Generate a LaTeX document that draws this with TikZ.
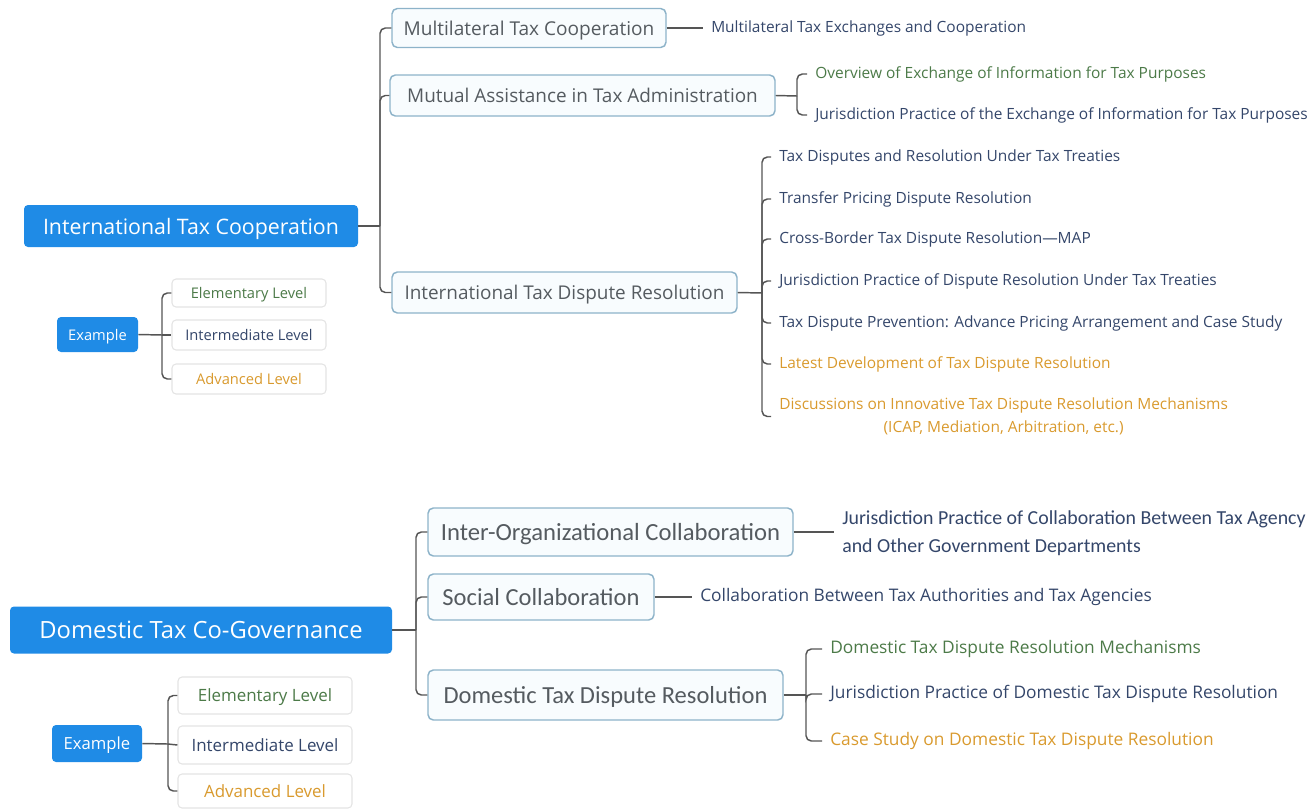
\documentclass[tikz,border=0pt]{standalone}
\usepackage{fontspec}
\setmainfont{Open Sans}
\newfontfamily\calib{Carlito}
\definecolor{rootblue}{HTML}{1F8BE6}
\definecolor{lonebord}{HTML}{8DB3C9}
\definecolor{lonefill}{HTML}{F8FCFE}
\definecolor{lonetext}{HTML}{555B60}
\definecolor{lvbord}{HTML}{E4E4E4}
\definecolor{linegray}{HTML}{555555}
\definecolor{navy}{HTML}{34466A}
\definecolor{greentxt}{HTML}{4C7A48}
\definecolor{orangetxt}{HTML}{D99A2E}
\tikzset{
  rootbox/.style={fill=rootblue, rounded corners=3pt, text=white, inner sep=0pt, text depth=0pt},
  lonebox/.style={draw=lonebord, fill=lonefill, rounded corners=4pt, line width=1.1pt, text=lonetext, inner sep=0pt, text depth=0pt},
  lvbox/.style={draw=lvbord, fill=white, rounded corners=3pt, line width=0.8pt, inner sep=0pt, text depth=0pt},
  item/.style={anchor=west, inner ysep=2pt, inner xsep=6pt, text=navy},
  conn/.style={draw=linegray, line width=1.1pt, rounded corners=4pt},
}
\begin{document}
\begin{tikzpicture}[x=0.75pt, y=-0.75pt]
\useasboundingbox (0,0) rectangle (1312,811);
% ---------------- International Tax Cooperation ----------------
\node[rootbox, minimum width=334*.75pt, minimum height=42*.75pt, font=\fontsize{16}{19}\selectfont] (r1) at (191,226) {International Tax Cooperation};
\node[rootbox, minimum width=81*.75pt, minimum height=35*.75pt, font=\fontsize{11}{13}\selectfont] (ex1) at (97.5,334.5) {Example};
\node[lvbox, minimum width=154*.75pt, minimum height=28*.75pt, text=greentxt, font=\fontsize{11}{13}\selectfont] (lv1a) at (249,293) {Elementary Level};
\node[lvbox, minimum width=154*.75pt, minimum height=30*.75pt, text=navy, font=\fontsize{11}{13}\selectfont] (lv1b) at (249,335) {Intermediate Level};
\node[lvbox, minimum width=154*.75pt, minimum height=30*.75pt, text=orangetxt, font=\fontsize{11}{13}\selectfont] (lv1c) at (249,379) {Advanced Level};
\coordinate (jex1) at (162,335);
\draw[conn] (ex1.east) -- (jex1);
\draw[conn] (jex1) |- (lv1a.west);
\draw[conn] (jex1) -- (lv1b.west);
\draw[conn] (jex1) |- (lv1c.west);

\node[lonebox, minimum width=274*.75pt, minimum height=39*.75pt, font=\fontsize{14.3}{17}\selectfont] (c1) at (529,28) {Multilateral Tax Cooperation};
\node[lonebox, minimum width=385*.75pt, minimum height=41*.75pt, font=\fontsize{14.2}{17}\selectfont] (c2) at (582.5,95.5) {Mutual Assistance in Tax Administration};
\node[lonebox, minimum width=345*.75pt, minimum height=41*.75pt, font=\fontsize{14.2}{17}\selectfont] (c3) at (564.5,292.5) {International Tax Dispute Resolution};
\coordinate (j1) at (380,226);
\draw[conn] (r1.east) -- (j1);
\draw[conn] (j1) |- (c1.west);
\draw[conn] (j1) |- (c2.west);
\draw[conn] (j1) |- (c3.west);

\tikzset{topitem/.style={item, font=\fontsize{11.6}{14}\selectfont}}
\node[topitem] (i11) at (703,28) {Multilateral Tax Exchanges and Cooperation};
\draw[conn] (c1.east) -- (i11.west);

\coordinate (j2) at (797,96);
\node[topitem, text=greentxt] (i21) at (807,74) {Overview of Exchange of Information for Tax Purposes};
\node[topitem] (i22) at (807,115) {Jurisdiction Practice of the Exchange of Information for Tax Purposes};
\draw[conn] (c2.east) -- (j2);
\draw[conn] (j2) |- (i21.west);
\draw[conn] (j2) |- (i22.west);

\coordinate (j3) at (762,293);
\node[topitem] (i31) at (771,157) {Tax Disputes and Resolution Under Tax Treaties};
\node[topitem] (i32) at (771,199) {Transfer Pricing Dispute Resolution};
\node[topitem] (i33) at (771,239) {Cross-Border Tax Dispute Resolution—MAP};
\node[topitem] (i34) at (771,281) {Jurisdiction Practice of Dispute Resolution Under Tax Treaties};
\node[topitem] (i35) at (771,323) {Tax Dispute Prevention: Advance Pricing Arrangement and Case Study};
\node[topitem, text=orangetxt] (i36) at (771,364) {Latest Development of Tax Dispute Resolution};
\node[topitem, text=orangetxt, align=center, font=\fontsize{11.6}{17}\selectfont] (i37) at (771,416.5) {Discussions on Innovative Tax Dispute Resolution Mechanisms\\(ICAP, Mediation, Arbitration, etc.)};
\draw[conn] (c3.east) -- (j3);
\foreach \n in {i31,i32,i33,i34,i35,i36,i37} {\draw[conn] (j3) |- (\n.west);}

% ---------------- Domestic Tax Co-Governance ----------------
\node[rootbox, minimum width=382*.75pt, minimum height=47*.75pt, font=\fontsize{17.8}{21}\selectfont] (r2) at (201,630) {Domestic Tax Co-Governance};
\node[rootbox, minimum width=90*.75pt, minimum height=37*.75pt, font=\fontsize{12.5}{15}\selectfont] (ex2) at (97,743.5) {Example};
\node[lvbox, minimum width=174*.75pt, minimum height=37*.75pt, text=greentxt, font=\fontsize{12.7}{15}\selectfont] (lv2a) at (265,695.5) {Elementary Level};
\node[lvbox, minimum width=174*.75pt, minimum height=38*.75pt, text=navy, font=\fontsize{12.7}{15}\selectfont] (lv2b) at (265,745) {Intermediate Level};
\node[lvbox, minimum width=174*.75pt, minimum height=34*.75pt, text=orangetxt, font=\fontsize{12.7}{15}\selectfont] (lv2c) at (265,791) {Advanced Level};
\coordinate (jex2) at (168,744);
\draw[conn] (ex2.east) -- (jex2);
\draw[conn] (jex2) |- (lv2a.west);
\draw[conn] (jex2) -- (lv2b.west);
\draw[conn] (jex2) |- (lv2c.west);

\node[lonebox, minimum width=365*.75pt, minimum height=48*.75pt, font=\calib\fontsize{18.5}{22}\selectfont] (d1) at (610.5,532) {Inter-Organizational Collaboration};
\node[lonebox, minimum width=226*.75pt, minimum height=46*.75pt, font=\calib\fontsize{18.4}{22}\selectfont] (d2) at (541,597) {Social Collaboration};
\node[lonebox, minimum width=355*.75pt, minimum height=50*.75pt, font=\calib\fontsize{18.4}{22}\selectfont] (d3) at (605.5,695) {Domestic Tax Dispute Resolution};
\coordinate (j4) at (416,630);
\draw[conn] (r2.east) -- (j4);
\draw[conn] (j4) |- (d1.west);
\draw[conn] (j4) |- (d2.west);
\draw[conn] (j4) |- (d3.west);

\tikzset{lowitem/.style={item, font=\fontsize{13}{16}\selectfont}}
\node[item, align=left, font=\calib\fontsize{14.9}{21}\selectfont] (k1) at (834,533) {Jurisdiction Practice of Collaboration Between Tax Agency\\and Other Government Departments};
\draw[conn] (d1.east) -- (d1.east -| k1.west);
\node[lowitem] (k2) at (692,597) {Collaboration Between Tax Authorities and Tax Agencies};
\draw[conn] (d2.east) -- (k2.west);
\coordinate (j5) at (806,695);
\node[lowitem, text=greentxt] (k3) at (822,649) {Domestic Tax Dispute Resolution Mechanisms};
\node[lowitem] (k4) at (822,694) {Jurisdiction Practice of Domestic Tax Dispute Resolution};
\node[lowitem, text=orangetxt] (k5) at (822,741) {Case Study on Domestic Tax Dispute Resolution};
\draw[conn] (d3.east) -- (j5);
\draw[conn] (j5) |- (k3.west);
\draw[conn] (j5) |- (k4.west);
\draw[conn] (j5) |- (k5.west);
\end{tikzpicture}
\end{document}
